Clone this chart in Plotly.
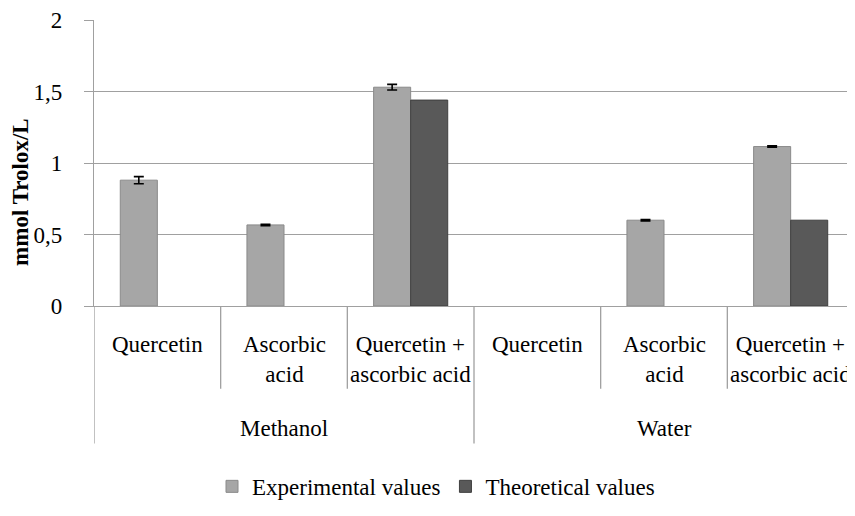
import plotly.graph_objects as go

# ---- data ----
solvents = ["Methanol", "Water"]
compounds = ["Quercetin", "Ascorbic<br>acid", "Quercetin +<br>ascorbic acid"]
experimental = [0.88, 0.567, 1.53, None, 0.60, 1.115]
experimental_err = [0.025, 0.005, 0.02, 0, 0.005, 0.005]
theoretical = [None, None, 1.44, None, None, 0.60]
y_ticks = [0, 0.5, 1, 1.5, 2]
series_names = ["Experimental values", "Theoretical values"]

FONT = "Liberation Serif"
GRID = "#a0a0a0"

n_comp = len(compounds)
positions = list(range(len(solvents) * n_comp))

fig = go.Figure()
fig.add_trace(go.Bar(
    x=positions, y=experimental, name=series_names[0],
    marker=dict(color="#a6a6a6", line=dict(color="#8a8a8a", width=1)),
    error_y=dict(type="data", array=experimental_err, color="black",
                 thickness=1.6, width=5),
))
fig.add_trace(go.Bar(
    x=positions, y=theoretical, name=series_names[1],
    marker=dict(color="#595959", line=dict(color="#3f3f3f", width=1)),
))

shapes = []
annotations = []
# compound labels
for i in positions:
    annotations.append(dict(
        x=i, xref="x", y=-0.083, yref="paper", yanchor="top", xanchor="center",
        text=compounds[i % n_comp], showarrow=False,
        font=dict(family=FONT, size=23, color="black"),
    ))
# dividers (short between compounds, long between solvents)
for b in range(len(positions) + 1):
    xb = b - 0.5
    long = (b % n_comp == 0)
    shapes.append(dict(
        type="line", xref="x", yref="paper", x0=xb, x1=xb,
        y0=0, y1=(-0.481 if long else -0.289),
        line=dict(color=GRID, width=1.3),
    ))
# solvent (group) labels
for g, s in enumerate(solvents):
    xc = sum(positions[g * n_comp:(g + 1) * n_comp]) / n_comp
    annotations.append(dict(
        x=xc, xref="x", y=-0.427, yref="paper", yanchor="middle", xanchor="center",
        text=s, showarrow=False, font=dict(family=FONT, size=23, color="black"),
    ))
# y-axis title
annotations.append(dict(
    x=-0.097, xref="paper", y=0.40, yref="paper", textangle=-90,
    xanchor="center", yanchor="middle", showarrow=False,
    text="<b>mmol Trolox/L</b>", font=dict(family=FONT, size=23, color="black"),
))

fig.update_layout(
    width=847, height=500,
    margin=dict(l=86, r=1, t=12, b=201),
    paper_bgcolor="white", plot_bgcolor="white",
    barmode="group", bargap=0.415, bargroupgap=0,
    separators=", ",
    font=dict(family=FONT, size=23, color="black"),
    showlegend=True,
    legend=dict(orientation="h", x=0.45, xanchor="center", y=-0.70, yanchor="bottom",
                font=dict(family=FONT, size=23, color="black"),
                itemwidth=30, traceorder="normal"),
    shapes=shapes, annotations=annotations,
)
fig.update_xaxes(range=[-0.5, len(positions) - 0.5], showticklabels=False, ticks="",
                 showgrid=False, zeroline=False, showline=True, linecolor=GRID, linewidth=1.3,
                 automargin=False)
fig.update_yaxes(range=[0, 2], tickvals=y_ticks, showgrid=True, gridcolor=GRID, gridwidth=1.3,
                 zeroline=False, showline=True, linecolor=GRID, linewidth=1.3,
                 ticks="outside", ticklen=9, tickcolor=GRID, tickwidth=1.3,
                 ticklabelstandoff=17, automargin=False,
                 tickfont=dict(family=FONT, size=23, color="black"))

fig.write_html("out.html")
